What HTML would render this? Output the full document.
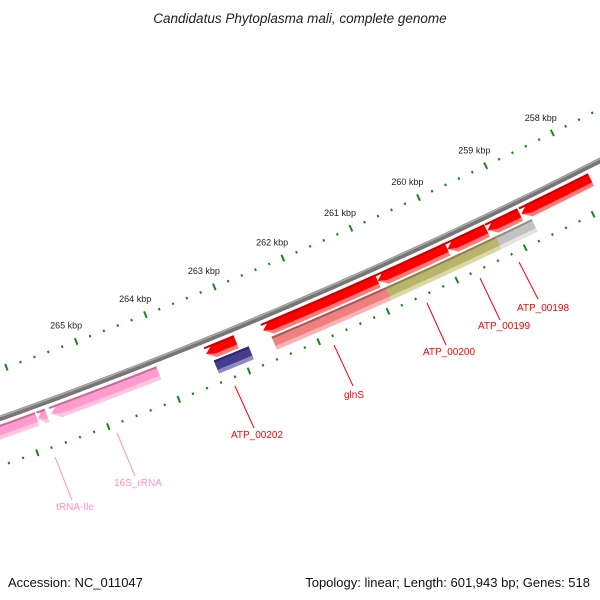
<!DOCTYPE html>
<html><head><meta charset="utf-8"><style>
html,body{margin:0;padding:0;background:#fff}
svg{display:block;font-family:"Liberation Sans","DejaVu Sans",sans-serif}
</style></head><body>
<svg id="map" width="600" height="600" viewBox="0 0 600 600" xmlns="http://www.w3.org/2000/svg">
<rect width="600" height="600" fill="#fff"/>
<text x="300" y="23" text-anchor="middle" font-size="13.5" font-style="italic" fill="#222">Candidatus Phytoplasma mali, complete genome</text>
<g id="ticks"></g><g id="backbone"></g><g id="features"></g><g id="labels"></g>
<text x="8" y="587" font-size="13" fill="#111">Accession: NC_011047</text>
<text x="590" y="587" text-anchor="end" font-size="13" fill="#111">Topology: linear; Length: 601,943 bp; Genes: 518</text>
</svg>
<script>
const featStart=[266.9,265.83,265.65,263.44,263.38,262.62,262.55,260.96,260.90,259.94,259.87,259.35,259.29,258.85,257.62];
const featEnd=[265.85,265.71,264.12,263.01,262.88,260.96,260.86,259.94,259.83,259.36,259.24,258.87,258.76,257.82,256.5];
const featTrack=[1,1,1,1,2,1,2,1,2,1,2,1,2,1,1];
const featColor=['pink','pink','pink','red','blue','red','salmon','red','olive','red','olive','red','gray','red','red'];
const featArrow=[0,1,1,1,0,1,0,1,0,1,0,1,0,1,1];
const tickLabels=[258,259,260,261,262,263,264,265];
const geneLabels=['ATP_00198','ATP_00199','ATP_00200','glnS','ATP_00202','16S_rRNA','tRNA-Ile'];
const geneLabelColor=['red','red','red','red','red','pink','pink'];

const CX=-1717,CY=-4403,R=5118,TH0=1.1655,DK=0.01465;
const NS='http://www.w3.org/2000/svg';
function pt(k,d){const th=TH0+(k-262)*DK,r=R+d;return [CX+r*Math.cos(th),CY+r*Math.sin(th)];}
function arc(k1,k2,d,n){const a=[];for(let i=0;i<=n;i++){a.push(pt(k1+(k2-k1)*i/n,d));}return a;}
function P(a){return a.map(p=>p[0].toFixed(2)+','+p[1].toFixed(2)).join(' ');}
function mk(tag,attrs,parent){const e=document.createElementNS(NS,tag);for(const k in attrs)e.setAttribute(k,attrs[k]);parent.appendChild(e);return e;}

const ticksG=document.getElementById('ticks');
for(let i=0;i<=60;i++){
  const k=256+i*0.2;const major=Math.abs(k-Math.round(k))<1e-6;
  [[-46,'outer'],[45,'inner']].forEach(([d,nm])=>{
    const h=major?3.5:1.2;const a=pt(k,d-h),b=pt(k,d+h);
    const l=mk('line',{x1:a[0],y1:a[1],x2:b[0],y2:b[1],stroke:'#17861a','stroke-width':2},ticksG);
    
    
  });
}
tickLabels.forEach(k=>{const p=pt(k,-63);
  const t=mk('text',{x:p[0]-4,y:p[1]+3,'text-anchor':'middle','font-size':9,fill:'#222'},ticksG);
  t.textContent=k+' kbp';
  
  
});

const bb=document.getElementById('backbone');
const b1=mk('polyline',{points:P(arc(255,268,0,60)),fill:'none',stroke:'#767676','stroke-width':5.5},bb);


mk('polyline',{points:P(arc(255,268,-1.6,60)),fill:'none',stroke:'#a8a8a8','stroke-width':1.6},bb);

const pal={red:['#ff0000','#c80000','#ff7a7a'],salmon:['#f08080','#a85858','#f8b4b4'],olive:['#b9b46c','#88844c','#dcd8a4'],
gray:['#c2c2c2','#8e8e8e','#e4e4e4'],blue:['#463c8c','#2c2670','#8e88c4'],pink:['#ff9ccd','#c46c9c','#ffc4e2']};
const fg=document.getElementById('features');
function shape(k1,k2,d1,d2,arrow,hd){
  const head=arrow?Math.min(0.12,(k1-k2)*0.6):0;const n=Math.max(2,Math.ceil((k1-k2)*8));
  const top=arc(k2,k1-head,d1,n),bot=arc(k1-head,k2,d2,n);
  const pts=top.slice();if(arrow)pts.push(pt(k1,hd));return P(pts.concat(bot));
}
featStart.forEach((ks,i)=>{
  const ke=featEnd[i];const d1=featTrack[i]===1?6:22,d2=d1+14,c=pal[featColor[i]],ar=featArrow[i],mid=(d1+d2)/2;
  const g=mk('g',{},fg);
  
  
  mk('polygon',{points:shape(ks,ke,d1,d2,ar,mid),fill:c[2]},g);
  mk('polygon',{points:shape(ks,ke,d1,d2-4,ar,mid),fill:c[0]},g);
  mk('polygon',{points:shape(ks,ke,d1,d1+2,0,mid),fill:c[1]},g);
});

const lab=[[519,262,538,299,543,311],[480,278,500,320,504,329],[427,303,446,345,449,355],[334,345,353,386,354,398],[235,386,254,428,257,438],[117,433,135,476,138,486],[55,457,72,500,75,510]];
const lg=document.getElementById('labels');
geneLabels.forEach((s,i)=>{const L=lab[i];const col=geneLabelColor[i]==='red'?'#f00':'#ff8ec8';
  const ln=mk('line',{x1:L[0],y1:L[1],x2:L[2],y2:L[3],stroke:col,'stroke-width':1},lg);
  
  
  const t=mk('text',{x:L[4],y:L[5],'text-anchor':'middle','font-size':10,fill:col},lg);
  t.textContent=s;
  
  
});
</script>
</body></html>
